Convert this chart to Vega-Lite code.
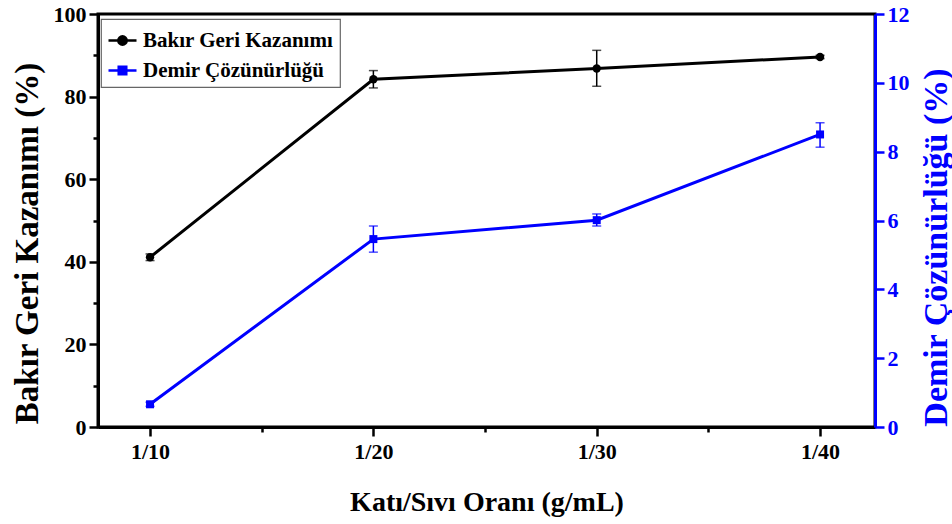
{
  "$schema": "https://vega.github.io/schema/vega-lite/v6.json",
  "width": 777,
  "height": 413,
  "autosize": {"type": "none"},
  "padding": {"left": 98, "top": 14, "right": 77, "bottom": 97},
  "background": "white",
  "config": {
    "view": {"stroke": "black", "strokeWidth": 3},
    "font": "Liberation Serif",
    "legend": {
      "fillColor": "white",
      "strokeColor": "#666666",
      "strokeWidth": 1.2,
      "padding": 6,
      "labelFont": "Liberation Serif",
      "labelFontWeight": "bold",
      "labelFontSize": 21,
      "labelColor": "black",
      "labelOffset": 5,
      "labelLimit": 0,
      "symbolSize": 784,
      "symbolStrokeWidth": 2.5,
      "symbolOpacity": 1,
      "rowPadding": 4
    }
  },
  "data": {
    "values": [
      {"pos": 1, "oran": "1/10", "cu": 41.1, "cu_lo": 40.3, "cu_hi": 41.9, "fe": 0.66, "fe_lo": 0.6, "fe_hi": 0.72},
      {"pos": 2, "oran": "1/20", "cu": 84.2, "cu_lo": 82.1, "cu_hi": 86.3, "fe": 5.46, "fe_lo": 5.08, "fe_hi": 5.84},
      {"pos": 3, "oran": "1/30", "cu": 86.8, "cu_lo": 82.5, "cu_hi": 91.2, "fe": 6.01, "fe_lo": 5.84, "fe_hi": 6.19},
      {"pos": 4, "oran": "1/40", "cu": 89.6, "cu_lo": 89.2, "cu_hi": 90.0, "fe": 8.5, "fe_lo": 8.13, "fe_hi": 8.84}
    ]
  },
  "encoding": {
    "x": {
      "field": "pos",
      "type": "quantitative",
      "title": "Katı/Sıvı Oranı (g/mL)",
      "scale": {"domain": [0.767, 4.246], "nice": false, "zero": false},
      "axis": {
        "values": [1, 1.5, 2, 2.5, 3, 3.5, 4],
        "labelExpr": "datum.value % 1 === 0 ? '1/' + (datum.value * 10) : ''",
        "grid": false,
        "domainColor": "black",
        "domainWidth": 3,
        "tickColor": "black",
        "tickWidth": 2.5,
        "tickSize": {"condition": {"test": "datum.value % 1 !== 0", "value": 5}, "value": 9},
        "labelFont": "Liberation Serif",
        "labelFontWeight": "bold",
        "labelFontSize": 22,
        "labelColor": "black",
        "labelPadding": 5,
        "labelFlush": false,
        "labelOverlap": false,
        "titleFont": "Liberation Serif",
        "titleFontWeight": "bold",
        "titleFontSize": 28,
        "titleColor": "black",
        "titleBaseline": "alphabetic",
        "titleY": 83
      }
    }
  },
  "layer": [
    {
      "layer": [
        {
          "mark": {"type": "rule", "color": "black", "strokeWidth": 1.5},
          "encoding": {
            "y": {"field": "cu_lo", "type": "quantitative", "title": "Bakır Geri Kazanımı (%)", "scale": {"domain": [0, 100], "nice": false}},
            "y2": {"field": "cu_hi"}
          }
        },
        {
          "mark": {"type": "tick", "orient": "horizontal", "color": "black", "size": 9, "thickness": 1.5},
          "encoding": {
            "y": {"field": "cu_lo", "type": "quantitative", "title": "Bakır Geri Kazanımı (%)", "scale": {"domain": [0, 100], "nice": false}}
          }
        },
        {
          "mark": {"type": "tick", "orient": "horizontal", "color": "black", "size": 9, "thickness": 1.5},
          "encoding": {
            "y": {"field": "cu_hi", "type": "quantitative", "title": "Bakır Geri Kazanımı (%)", "scale": {"domain": [0, 100], "nice": false}}
          }
        },
        {
          "mark": {"type": "line", "color": "black", "strokeWidth": 3},
          "encoding": {
            "y": {
              "field": "cu",
              "type": "quantitative",
              "title": "Bakır Geri Kazanımı (%)",
              "scale": {"domain": [0, 100], "nice": false},
              "axis": {
                "orient": "left",
                "values": [0, 10, 20, 30, 40, 50, 60, 70, 80, 90, 100],
                "labelExpr": "datum.value % 20 === 0 ? datum.label : ''",
                "grid": false,
                "domainColor": "black",
                "domainWidth": 3,
                "tickColor": "black",
                "tickWidth": 2.5,
                "tickSize": {"condition": {"test": "datum.value % 20 !== 0", "value": 5}, "value": 9},
                "labelFont": "Liberation Serif",
                "labelFontWeight": "bold",
                "labelFontSize": 22,
                "labelColor": "black",
                "labelPadding": 3,
                "labelOverlap": false,
                "labelFlush": false,
                "titleFont": "Liberation Serif",
                "titleFontWeight": "bold",
                "titleFontSize": 33,
                "titleColor": "black",
                "titleAngle": 270,
                "titleAlign": "center",
                "titleBaseline": "middle",
                "titleX": -71,
                "titleY": 229
              }
            }
          }
        },
        {
          "mark": {"type": "point", "shape": "circle", "filled": true, "color": "black", "opacity": 1, "size": 70},
          "encoding": {
            "y": {"field": "cu", "type": "quantitative", "title": "Bakır Geri Kazanımı (%)", "scale": {"domain": [0, 100], "nice": false}}
          }
        },
        {
          "transform": [{"fold": ["cu", "fe"], "as": ["key", "val"]}],
          "mark": {"type": "point", "filled": true, "opacity": 0},
          "encoding": {
            "y": {"field": "val", "type": "quantitative", "title": "Bakır Geri Kazanımı (%)", "scale": {"domain": [0, 100], "nice": false}},
            "fill": {
              "field": "key",
              "type": "nominal",
              "scale": {"domain": ["cu", "fe"], "range": ["black", "#0000ff"]},
              "legend": {
                "orient": "none",
                "legendX": 3,
                "legendY": 5,
                "title": null,
                "labelExpr": "datum.value === 'cu' ? 'Bakır Geri Kazanımı' : 'Demir Çözünürlüğü'"
              }
            },
            "stroke": {"field": "key", "type": "nominal", "scale": {"domain": ["cu", "fe"], "range": ["black", "#0000ff"]}},
            "shape": {"field": "key", "type": "nominal", "scale": {"domain": ["cu", "fe"], "range": ["M-1,0H1M0.3,0A0.3,0.3,0,1,1,-0.3,0A0.3,0.3,0,1,1,0.3,0Z", "M-1,0H1M-0.27,-0.27H0.27V0.27H-0.27Z"]}}
          }
        }
      ]
    },
    {
      "layer": [
        {
          "mark": {"type": "rule", "color": "#0000ff", "strokeWidth": 1.5},
          "encoding": {
            "y": {"field": "fe_lo", "type": "quantitative", "title": "Demir Çözünürlüğü (%)", "scale": {"domain": [0, 12], "nice": false}},
            "y2": {"field": "fe_hi"}
          }
        },
        {
          "mark": {"type": "tick", "orient": "horizontal", "color": "#0000ff", "size": 9, "thickness": 1.5},
          "encoding": {
            "y": {"field": "fe_lo", "type": "quantitative", "title": "Demir Çözünürlüğü (%)", "scale": {"domain": [0, 12], "nice": false}}
          }
        },
        {
          "mark": {"type": "tick", "orient": "horizontal", "color": "#0000ff", "size": 9, "thickness": 1.5},
          "encoding": {
            "y": {"field": "fe_hi", "type": "quantitative", "title": "Demir Çözünürlüğü (%)", "scale": {"domain": [0, 12], "nice": false}}
          }
        },
        {
          "mark": {"type": "line", "color": "#0000ff", "strokeWidth": 3},
          "encoding": {
            "y": {
              "field": "fe",
              "type": "quantitative",
              "title": "Demir Çözünürlüğü (%)",
              "scale": {"domain": [0, 12], "nice": false},
              "axis": {
                "orient": "right",
                "values": [0, 1, 2, 3, 4, 5, 6, 7, 8, 9, 10, 11, 12],
                "labelExpr": "datum.value % 2 === 0 ? datum.label : ''",
                "grid": false,
                "domainColor": "#0000ff",
                "domainWidth": 3,
                "tickColor": "#0000ff",
                "tickWidth": 2.5,
                "tickSize": {"condition": {"test": "datum.value % 2 !== 0", "value": 5}, "value": 9},
                "labelFont": "Liberation Serif",
                "labelFontWeight": "bold",
                "labelFontSize": 22,
                "labelColor": "#0000ff",
                "labelPadding": 3,
                "labelOverlap": false,
                "labelFlush": false,
                "titleFont": "Liberation Serif",
                "titleFontWeight": "bold",
                "titleFontSize": 34,
                "titleColor": "#0000ff",
                "titleAngle": 270,
                "titleAlign": "center",
                "titleBaseline": "middle",
                "titleX": 61,
                "titleY": 233
              }
            }
          }
        },
        {
          "mark": {"type": "point", "shape": "square", "filled": true, "color": "#0000ff", "opacity": 1, "size": 64},
          "encoding": {
            "y": {"field": "fe", "type": "quantitative", "title": "Demir Çözünürlüğü (%)", "scale": {"domain": [0, 12], "nice": false}}
          }
        }
      ]
    }
  ],
  "resolve": {"scale": {"y": "independent"}}
}
